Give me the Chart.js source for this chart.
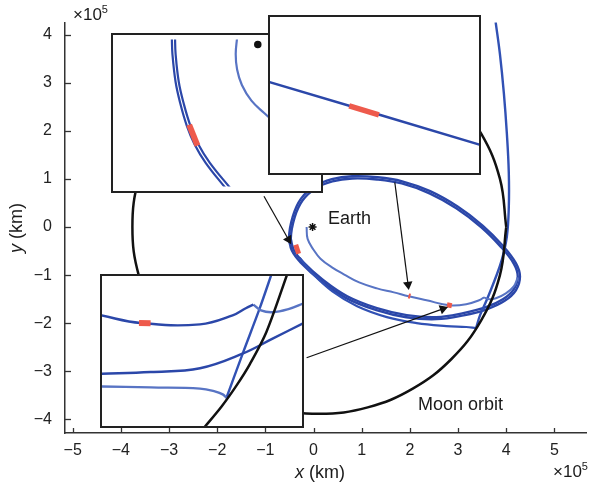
<!DOCTYPE html>
<html>
<head>
<meta charset="utf-8">
<script src="https://cdn.jsdelivr.net/npm/chart.js@4.4.1/dist/chart.umd.min.js"></script>
<style>
  html, body { margin: 0; padding: 0; background: #fff; }
  #wrap { position: relative; width: 592px; height: 486px; font-family: "Liberation Sans", Arial, sans-serif; color: #1a1a1a; overflow: hidden; }
  #mainChart { position: absolute; left: 0; top: 0; }
  .inset { position: absolute; background: #fff; border: 2px solid #222; box-sizing: border-box; }
  .inset canvas { display: block; }
  .lbl { position: absolute; font-size: 18px; line-height: 18px; white-space: nowrap; }
  .exp { position: absolute; font-size: 17px; line-height: 17px; white-space: nowrap; }
  .exp sup { font-size: 11px; vertical-align: 7px; line-height: 0; }
</style>
</head>
<body>
<div id="wrap">
  <canvas id="mainChart" width="592" height="486"></canvas>
  <div class="inset" style="left:111px; top:33px; width:212px; height:160px;"><canvas id="inset1" width="208" height="156"></canvas></div>
  <div class="inset" style="left:100px; top:274px; width:204px; height:154px;"><canvas id="inset3" width="200" height="150"></canvas></div>
  <div class="inset" style="left:268px; top:15px; width:213px; height:160px;"><canvas id="inset2" width="209" height="156"></canvas></div>
  <div class="exp" style="left:73px; top:6px;">×10<sup>5</sup></div>
  <div class="exp" style="left:553px; top:463px;">×10<sup>5</sup></div>
  <div class="lbl" style="left:295px; top:463px;"><i>x</i> (km)</div>
  <div class="lbl" style="left:16px; top:228px; transform: translate(-50%, -50%) rotate(-90deg);"><i>y</i> (km)</div>
  <div class="lbl" style="left:328px; top:209px;">Earth</div>
  <div class="lbl" style="left:418px; top:395px;">Moon orbit</div>
</div>
<script>
// axis ticks (units of 10^5 km)
const xTicks = [-5, -4, -3, -2, -1, 0, 1, 2, 3, 4, 5];
const yTicks = [-4, -3, -2, -1, 0, 1, 2, 3, 4];

// main plot, x/y in 10^5 km
const moonOrbit = [[4.00, 0], [3.868, 1.004], [3.480, 1.940], [2.863, 2.743], [2.060, 3.360], [1.124, 3.748],
  [0.12, 3.88], [-0.884, 3.748], [-1.820, 3.360], [-2.623, 2.743], [-3.240, 1.940], [-3.628, 1.004],
  [-3.76, 0], [-3.628, -1.004], [-3.240, -1.940], [-2.623, -2.743], [-1.820, -3.360], [-0.884, -3.748],
  [0.12, -3.88], [1.124, -3.748], [2.060, -3.360], [2.863, -2.743], [3.480, -1.940], [3.868, -1.004], [4.00, 0]];

const loopA = [[-0.412, -0.473], [-0.473, -0.247], [-0.391, 0.206], [-0.226, 0.556], [0.041, 0.802], [0.391, 0.947],
  [0.802, 1.008], [1.317, 0.988], [1.831, 0.905], [2.407, 0.700], [2.963, 0.391], [3.477, 0], [3.889, -0.412],
  [4.156, -0.761], [4.239, -1.029], [4.156, -1.296], [3.930, -1.502], [3.580, -1.667], [3.107, -1.790],
  [2.551, -1.872], [1.934, -1.831], [1.317, -1.687], [0.700, -1.440], [0.185, -1.091], [-0.226, -0.720],
  [-0.412, -0.473], [-0.473, -0.247]];
const loopB = [[-0.45, -0.49], [-0.51, -0.24], [-0.43, 0.22], [-0.26, 0.59], [0.03, 0.85], [0.38, 0.995],
  [0.80, 1.055], [1.32, 1.035], [1.84, 0.95], [2.42, 0.745], [2.99, 0.425], [3.51, 0.03], [3.93, -0.39],
  [4.20, -0.75], [4.285, -1.03], [4.20, -1.315], [3.96, -1.54], [3.595, -1.71], [3.115, -1.835], [2.55, -1.915],
  [1.925, -1.875], [1.305, -1.727], [0.68, -1.477], [0.155, -1.12], [-0.265, -0.74], [-0.45, -0.49], [-0.51, -0.24]];

const arcDown = [[3.78, 4.26], [3.868, 3.601], [3.951, 2.778], [4.012, 1.955], [4.053, 1.132], [4.053, 0.412],
  [4.012, -0.206], [3.909, -0.679], [3.765, -1.091], [3.601, -1.502], [3.457, -1.831], [3.374, -2.099]];
const arcBack = [[3.374, -2.099], [3.169, -2.078], [2.757, -2.058], [2.140, -1.996], [1.523, -1.872],
  [0.905, -1.646], [0.391, -1.337], [-0.021, -0.967], [-0.288, -0.638]];

const innerOut = [[-0.144, 0], [-0.123, -0.247], [0, -0.473], [0.144, -0.658], [0.391, -0.844], [0.638, -0.988],
  [0.947, -1.152], [1.317, -1.276], [1.667, -1.358], [1.975, -1.440], [2.346, -1.523], [2.819, -1.626],
  [3.169, -1.605], [3.436, -1.523], [3.539, -1.461]];
const innerOn = [[3.539, -1.461], [3.642, -1.502], [3.786, -1.481], [3.992, -1.379], [4.156, -1.235], [4.239, -1.049]];

const redMarks = [
  [[-0.370, -0.370], [-0.309, -0.556]],
  [[1.97, -1.43], [2.01, -1.44]],
  [[2.77, -1.616], [2.87, -1.636]]
];
const earth = [[-0.02, 0]];

const arrows = [
  [[-1.029, 0.638], [-0.52, -0.26]],
  [[1.687, 0.926], [1.962, -1.197]],
  [[-0.144, -2.716], [2.684, -1.701]]
];

// inset 1 (zoom on left side of the loops), arbitrary units 0-100 x 0-75
const ins1LineA = [[27.3, 76], [27.6, 67.6], [29.2, 53.3], [31.6, 42.2], [34.8, 31.1], [38.7, 21.6], [44.3, 12.1], [54.6, -1.2]];
const ins1LineB = [[28.9, 76], [29.2, 67.6], [30.8, 53.3], [33.3, 42.2], [36.6, 31.1], [40.6, 21.6], [46.4, 12.1], [57.0, -1.2]];
const ins1Red = [[36.0, 31.5], [40.2, 20.8]];
const ins1Light = [[60.1, 76], [59.4, 67.6], [60.1, 59.7], [62.5, 51.8], [67.3, 43.8], [73.7, 37.5], [82, 30]];
const ins1Earth = [[70.5, 72.4]];

// inset 2
const ins2Line = [[-1, 43.9], [50, 28.7], [101, 13.4]];
const ins2Red = [[37.9, 32.3], [52.1, 28.0]];

// inset 3
const ins3Top1 = [[-1, 55.4], [19.3, 51.5], [49.0, 50.8], [65.3, 55.3], [71.9, 58.9], [75.7, 60.7]];
const ins3Top2 = [[75.7, 60.7], [79.5, 57.8], [85.3, 56.9], [93.6, 58.6], [101, 61.4]];
const ins3Red = [[18.5, 51.5], [24.3, 51.4]];
const ins3Mid = [[-1, 26.1], [24.3, 27.0], [49.0, 28.9], [70.5, 36.3], [85.3, 43.7], [101, 51.6]];
const ins3Low1 = [[-1, 19.8], [24.3, 19.3], [49.0, 18.7], [56.4, 17.3], [60.6, 15.7], [62.2, 14.0]];
const ins3Low2 = [[62.2, 14.0], [70.3, 36.1], [78.7, 58.4], [85.3, 77.5]];
const ins3Moon = [[50.5, -1.5], [59.9, 9.9], [67.3, 20.3], [73.8, 30.7], [82.2, 47.0], [93.0, 77]];

const DARK = '#2b47a9';
const MID = '#3151b4';
const LIGHT = '#5874c4';
const RED = '#ee5a4c';
const BLACK = '#111';

const pts = a => a.map(p => ({ x: p[0], y: p[1] }));

function line(data, color, width, tension) {
  return {
    data: pts(data), showLine: true, borderColor: color, backgroundColor: color,
    borderWidth: width, pointRadius: 0, pointHoverRadius: 0,
    tension: tension === undefined ? 0.4 : tension, fill: false
  };
}

function arrow(a) {
  return {
    data: pts(a), showLine: true, borderColor: BLACK, backgroundColor: BLACK,
    borderWidth: 1.2, tension: 0, pointRadius: [0, 5.5], pointHoverRadius: 0,
    pointStyle: 'triangle', pointBorderWidth: 0,
    pointRotation: c => {
      const s = c.chart.scales;
      const d = c.dataset.data;
      const dx = s.x.getPixelForValue(d[1].x) - s.x.getPixelForValue(d[0].x);
      const dy = s.y.getPixelForValue(d[1].y) - s.y.getPixelForValue(d[0].y);
      return Math.atan2(dx, -dy) * 180 / Math.PI;
    }
  };
}

function dot(data, style, r) {
  return {
    data: pts(data), showLine: false, pointStyle: style, pointRadius: r, pointHoverRadius: 0,
    borderColor: BLACK, backgroundColor: BLACK, pointBorderWidth: 1.5
  };
}

const minus = v => (v < 0 ? '\u2212' + (-v) : String(v));

const inwardTicks = {
  id: 'inwardTicks',
  afterDraw(chart) {
    const { ctx, chartArea, scales } = chart;
    ctx.save();
    ctx.strokeStyle = '#333';
    ctx.lineWidth = 1.3;
    scales.x.ticks.forEach(t => {
      const px = Math.round(scales.x.getPixelForValue(t.value)) + 0.5;
      ctx.beginPath();
      ctx.moveTo(px, chartArea.bottom);
      ctx.lineTo(px, chartArea.bottom - 5);
      ctx.stroke();
    });
    scales.y.ticks.forEach(t => {
      const py = Math.round(scales.y.getPixelForValue(t.value)) + 0.5;
      ctx.beginPath();
      ctx.moveTo(chartArea.left, py);
      ctx.lineTo(chartArea.left + 6, py);
      ctx.stroke();
    });
    ctx.restore();
  }
};

Chart.defaults.font.family = "'Liberation Sans', Arial, sans-serif";
Chart.defaults.color = '#222';
Chart.defaults.elements.line.capBezierPoints = false;

const mainDatasets = [
  ...arrows.map(arrow),
  ...redMarks.map(r => ({ ...line(r, RED, 5, 0), borderCapStyle: 'butt' })),
  dot(earth, 'star', 4),
  line(moonOrbit, BLACK, 2.5),
  line(innerOut, LIGHT, 2),
  line(innerOn, LIGHT, 2),
  line(arcDown, MID, 2.4),
  line(arcBack, MID, 2.2),
  line(loopA, DARK, 2.4),
  line(loopB, DARK, 2.4)
];

new Chart(document.getElementById('mainChart'), {
  type: 'scatter',
  data: { datasets: mainDatasets },
  options: {
    responsive: false,
    animation: false,
    devicePixelRatio: 1,
    layout: { padding: { top: 19, right: 2, left: 0, bottom: 0 } },
    plugins: { legend: { display: false }, tooltip: { enabled: false } },
    scales: {
      x: {
        type: 'linear', min: -5.159, max: 5.666,
        afterBuildTicks: s => { s.ticks = xTicks.map(v => ({ value: v })); },
        afterFit: s => { s.height = 53; },
        grid: { display: false, drawTicks: false },
        border: { display: true, color: '#333', width: 1.5 },
        ticks: { padding: 8, autoSkip: false, maxRotation: 0, font: { size: 16 }, callback: minus }
      },
      y: {
        type: 'linear', min: -4.281, max: 4.248,
        afterBuildTicks: s => { s.ticks = yTicks.map(v => ({ value: v })); },
        afterFit: s => { s.width = 65; },
        grid: { display: false, drawTicks: false },
        border: { display: true, color: '#333', width: 1.5 },
        ticks: { padding: 13, autoSkip: false, font: { size: 16 }, callback: minus }
      }
    }
  },
  plugins: [inwardTicks]
});

function makeInset(id, datasets) {
  return new Chart(document.getElementById(id), {
    type: 'scatter',
    data: { datasets },
    options: {
      responsive: false,
      animation: false,
      devicePixelRatio: 1,
      layout: { padding: 0 },
      plugins: { legend: { display: false }, tooltip: { enabled: false } },
      scales: {
        x: { type: 'linear', min: 0, max: 100, display: false },
        y: { type: 'linear', min: 0, max: 75, display: false }
      }
    }
  });
}

makeInset('inset1', [
  dot(ins1Earth, 'circle', 3),
  { ...line(ins1Red, RED, 6, 0), borderCapStyle: 'butt' },
  line(ins1LineA, DARK, 2.2),
  line(ins1LineB, DARK, 2.2),
  line(ins1Light, LIGHT, 2.2)
]);

makeInset('inset2', [
  { ...line(ins2Red, RED, 5.5, 0), borderCapStyle: 'butt' },
  line(ins2Line, DARK, 2.5, 0)
]);

makeInset('inset3', [
  line(ins3Moon, BLACK, 2.5, 0.3),
  { ...line(ins3Red, RED, 6, 0), borderCapStyle: 'butt' },
  line(ins3Top1, DARK, 2.4),
  line(ins3Top2, LIGHT, 2.4),
  line(ins3Mid, DARK, 2.4),
  line(ins3Low1, LIGHT, 2.4),
  line(ins3Low2, MID, 2.4, 0.3)
]);
</script>
</body>
</html>
